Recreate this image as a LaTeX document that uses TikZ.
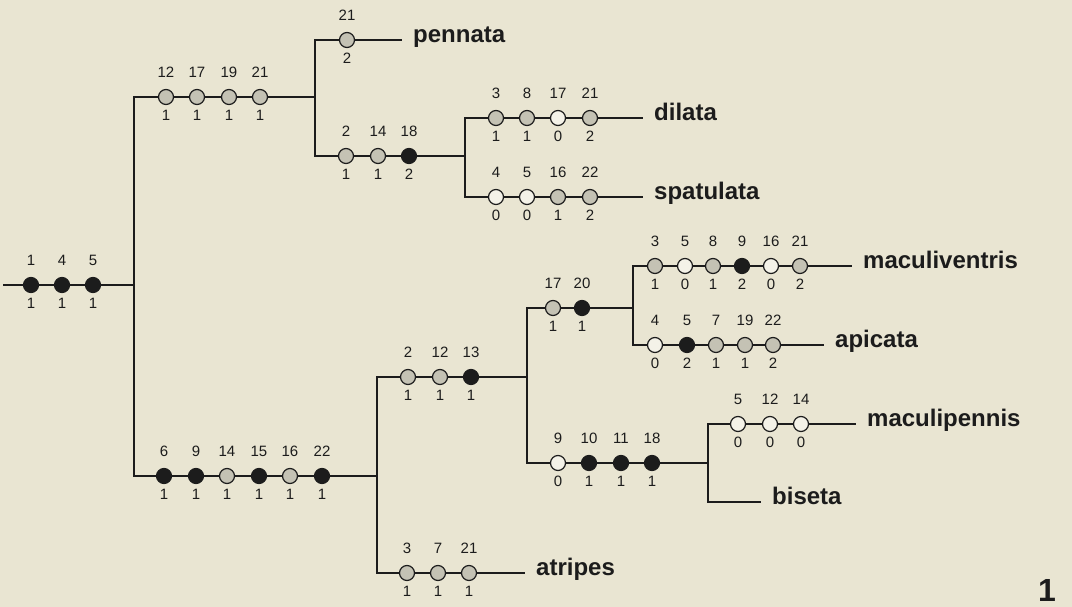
\documentclass[tikz,border=0pt]{standalone}
\usepackage{fontspec}
\setmainfont{Liberation Sans}
\usetikzlibrary{positioning}

\definecolor{paper}{RGB}{233,229,210}
\definecolor{ink}{RGB}{28,28,28}
\definecolor{shade}{RGB}{196,194,180}
\definecolor{blank}{RGB}{244,242,232}

\begin{document}
\begin{tikzpicture}[
    x=1pt, y=-1pt,
    ch/.style={circle, draw=ink, line width=1.2pt, minimum size=15pt, inner sep=0pt},
    gry/.style={ch, fill=shade},
    opn/.style={ch, fill=blank},
    blk/.style={ch, fill=ink},
    num/.style={font=\fontsize{15}{15}\selectfont, inner sep=0pt, text=ink},
    ntop/.style={label={[num, label distance=11pt]above:#1}},
    nbot/.style={label={[num, label distance=5pt]below:#1}},
    taxon/.style={font=\bfseries\fontsize{24}{24}\selectfont, anchor=west, inner xsep=11pt, inner ysep=0pt, text height=1ex, text depth=0pt, text=ink},
    branch/.style={draw=ink, line width=1.3pt}
]

\fill[paper] (0,0) rectangle (1072,607);
\useasboundingbox (0,0) rectangle (1072,607);

\coordinate (r0) at (3,285);
\coordinate (j1) at (134,285);
\coordinate (j2) at (315,97);
\coordinate (j3) at (465,156);
\coordinate (j4) at (377,476);
\coordinate (j5) at (527,377);
\coordinate (j6) at (633,308);
\coordinate (j7) at (708,463);

\node[blk, ntop=1, nbot=1] (r1) at (31,285) {};
\node[blk, ntop=4, nbot=1] (r2) at (62,285) {};
\node[blk, ntop=5, nbot=1] (r3) at (93,285) {};

\node[gry, ntop=12, nbot=1] (a1) at (166,97) {};
\node[gry, ntop=17, nbot=1] (a2) at (197,97) {};
\node[gry, ntop=19, nbot=1] (a3) at (229,97) {};
\node[gry, ntop=21, nbot=1] (a4) at (260,97) {};

\node[gry, ntop=21, nbot=2] (pe1) at (347,40) {};
\node[taxon] (pennata) at (402,40) {pennata};

\node[gry, ntop=2, nbot=1] (b1) at (346,156) {};
\node[gry, ntop=14, nbot=1] (b2) at (378,156) {};
\node[blk, ntop=18, nbot=2] (b3) at (409,156) {};

\node[gry, ntop=3, nbot=1] (di1) at (496,118) {};
\node[gry, ntop=8, nbot=1] (di2) at (527,118) {};
\node[opn, ntop=17, nbot=0] (di3) at (558,118) {};
\node[gry, ntop=21, nbot=2] (di4) at (590,118) {};
\node[taxon] (dilata) at (643,118) {dilata};

\node[opn, ntop=4, nbot=0] (sp1) at (496,197) {};
\node[opn, ntop=5, nbot=0] (sp2) at (527,197) {};
\node[gry, ntop=16, nbot=1] (sp3) at (558,197) {};
\node[gry, ntop=22, nbot=2] (sp4) at (590,197) {};
\node[taxon] (spatulata) at (643,197) {spatulata};

\node[blk, ntop=6, nbot=1] (c1) at (164,476) {};
\node[blk, ntop=9, nbot=1] (c2) at (196,476) {};
\node[gry, ntop=14, nbot=1] (c3) at (227,476) {};
\node[blk, ntop=15, nbot=1] (c4) at (259,476) {};
\node[gry, ntop=16, nbot=1] (c5) at (290,476) {};
\node[blk, ntop=22, nbot=1] (c6) at (322,476) {};

\node[gry, ntop=2, nbot=1] (d1) at (408,377) {};
\node[gry, ntop=12, nbot=1] (d2) at (440,377) {};
\node[blk, ntop=13, nbot=1] (d3) at (471,377) {};

\node[gry, ntop=3, nbot=1] (at1) at (407,573) {};
\node[gry, ntop=7, nbot=1] (at2) at (438,573) {};
\node[gry, ntop=21, nbot=1] (at3) at (469,573) {};
\node[taxon] (atripes) at (525,573) {atripes};

\node[gry, ntop=17, nbot=1] (e1) at (553,308) {};
\node[blk, ntop=20, nbot=1] (e2) at (582,308) {};

\node[gry, ntop=3, nbot=1] (mv1) at (655,266) {};
\node[opn, ntop=5, nbot=0] (mv2) at (685,266) {};
\node[gry, ntop=8, nbot=1] (mv3) at (713,266) {};
\node[blk, ntop=9, nbot=2] (mv4) at (742,266) {};
\node[opn, ntop=16, nbot=0] (mv5) at (771,266) {};
\node[gry, ntop=21, nbot=2] (mv6) at (800,266) {};
\node[taxon] (maculiventris) at (852,266) {maculiventris};

\node[opn, ntop=4, nbot=0] (ap1) at (655,345) {};
\node[blk, ntop=5, nbot=2] (ap2) at (687,345) {};
\node[gry, ntop=7, nbot=1] (ap3) at (716,345) {};
\node[gry, ntop=19, nbot=1] (ap4) at (745,345) {};
\node[gry, ntop=22, nbot=2] (ap5) at (773,345) {};
\node[taxon] (apicata) at (824,345) {apicata};

\node[opn, ntop=9, nbot=0] (f1) at (558,463) {};
\node[blk, ntop=10, nbot=1] (f2) at (589,463) {};
\node[blk, ntop=11, nbot=1] (f3) at (621,463) {};
\node[blk, ntop=18, nbot=1] (f4) at (652,463) {};

\node[opn, ntop=5, nbot=0] (mp1) at (738,424) {};
\node[opn, ntop=12, nbot=0] (mp2) at (770,424) {};
\node[opn, ntop=14, nbot=0] (mp3) at (801,424) {};
\node[taxon] (maculipennis) at (856,424) {maculipennis};

\node[taxon] (biseta) at (761,502) {biseta};

\node[font=\bfseries\fontsize{32}{32}\selectfont, text=ink] (fig) at (1047,590) {1};

\draw[branch] (r0) -- (r1) -- (r2) -- (r3) -- (j1);
\draw[branch] (j1) |- (a1) -- (a2) -- (a3) -- (a4) -- (j2);
\draw[branch] (j1) |- (c1) -- (c2) -- (c3) -- (c4) -- (c5) -- (c6) -- (j4);
\draw[branch] (j2) |- (pe1) -- (pennata);
\draw[branch] (j2) |- (b1) -- (b2) -- (b3) -- (j3);
\draw[branch] (j3) |- (di1) -- (di2) -- (di3) -- (di4) -- (dilata);
\draw[branch] (j3) |- (sp1) -- (sp2) -- (sp3) -- (sp4) -- (spatulata);
\draw[branch] (j4) |- (d1) -- (d2) -- (d3) -- (j5);
\draw[branch] (j4) |- (at1) -- (at2) -- (at3) -- (atripes);
\draw[branch] (j5) |- (e1) -- (e2) -- (j6);
\draw[branch] (j5) |- (f1) -- (f2) -- (f3) -- (f4) -- (j7);
\draw[branch] (j6) |- (mv1) -- (mv2) -- (mv3) -- (mv4) -- (mv5) -- (mv6) -- (maculiventris);
\draw[branch] (j6) |- (ap1) -- (ap2) -- (ap3) -- (ap4) -- (ap5) -- (apicata);
\draw[branch] (j7) |- (mp1) -- (mp2) -- (mp3) -- (maculipennis);
\draw[branch] (j7) |- (biseta);

\end{tikzpicture}
\end{document}
